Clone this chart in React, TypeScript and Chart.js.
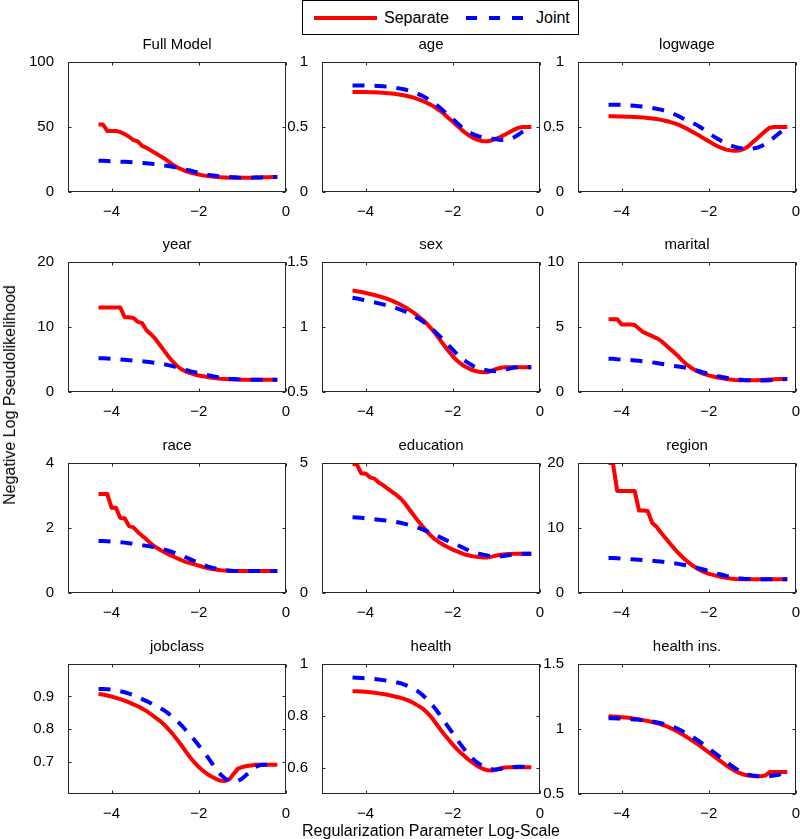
import React, { useEffect, useRef } from "react";
import { Chart, registerables } from "chart.js";

Chart.register(...registerables);

const FONT = "'Liberation Sans', Arial, Helvetica, sans-serif";

// regularization parameter (log10 scale)
const XS = [
  -4.3, -4.2, -4.1, -4.0, -3.9, -3.8, -3.7, -3.6, -3.5, -3.4,
  -3.3, -3.2, -3.1, -3.0, -2.9, -2.8, -2.7, -2.6, -2.5, -2.4,
  -2.3, -2.2, -2.1, -2.0, -1.9, -1.8, -1.7, -1.6, -1.5, -1.4,
  -1.3, -1.2, -1.1, -1.0, -0.9, -0.8, -0.7, -0.6, -0.5, -0.4,
  -0.3, -0.2,
];

const SEP_FULL = [52, 52, 47, 47, 47, 46, 44.5, 42.5, 40, 39, 35.5, 34, 32, 30, 28, 26, 23.5, 21, 19, 17.5, 16, 15, 14.2, 13.5, 12.8, 12.3, 11.9, 11.6, 11.4, 11.2, 11, 10.9, 10.9, 10.9, 11, 11, 11.1, 11.2, 11.3, 11.4, 11.5, 11.5];
const JOINT_FULL = [24, 24, 23.8, 23.6, 23.5, 23.3, 23.2, 23, 22.8, 22.6, 22.4, 22.1, 21.8, 21.5, 21, 20.5, 20, 19.4, 18.8, 18, 17.2, 16.5, 15.6, 14.8, 14, 13.3, 12.8, 12.4, 12, 11.7, 11.5, 11.3, 11.1, 11, 11, 11, 11.1, 11.2, 11.3, 11.4, 11.5, 11.6];

const SEP_AGE = [0.77, 0.77, 0.77, 0.769, 0.768, 0.767, 0.765, 0.763, 0.76, 0.757, 0.753, 0.748, 0.742, 0.735, 0.726, 0.715, 0.702, 0.687, 0.67, 0.65, 0.627, 0.6, 0.57, 0.54, 0.51, 0.48, 0.452, 0.428, 0.41, 0.398, 0.39, 0.39, 0.398, 0.41, 0.425, 0.442, 0.46, 0.478, 0.493, 0.5, 0.5, 0.5];
const JOINT_AGE = [0.82, 0.82, 0.82, 0.819, 0.818, 0.817, 0.815, 0.813, 0.81, 0.806, 0.801, 0.795, 0.788, 0.779, 0.768, 0.755, 0.74, 0.722, 0.7, 0.677, 0.65, 0.62, 0.59, 0.56, 0.53, 0.5, 0.475, 0.455, 0.44, 0.428, 0.42, 0.415, 0.41, 0.405, 0.4, 0.4, 0.405, 0.42, 0.44, 0.465, 0.485, 0.5];

const SEP_LOGWAGE = [0.582, 0.582, 0.581, 0.58, 0.579, 0.578, 0.577, 0.575, 0.573, 0.57, 0.566, 0.561, 0.555, 0.548, 0.54, 0.53, 0.518, 0.503, 0.486, 0.468, 0.449, 0.43, 0.41, 0.39, 0.37, 0.352, 0.337, 0.326, 0.32, 0.318, 0.32, 0.33, 0.35, 0.38, 0.41, 0.44, 0.47, 0.495, 0.5, 0.5, 0.5, 0.5];
const JOINT_LOGWAGE = [0.672, 0.672, 0.671, 0.67, 0.668, 0.666, 0.663, 0.66, 0.656, 0.652, 0.647, 0.641, 0.634, 0.625, 0.614, 0.6, 0.585, 0.567, 0.55, 0.537, 0.52, 0.5, 0.476, 0.452, 0.43, 0.41, 0.39, 0.373, 0.358, 0.347, 0.339, 0.334, 0.332, 0.333, 0.34, 0.352, 0.37, 0.395, 0.42, 0.448, 0.475, 0.5];

const SEP_YEAR = [13, 13, 13, 13, 13, 13, 11.5, 11.5, 11.4, 10.8, 10.6, 9.5, 8.9, 8.2, 7.3, 6.4, 5.5, 4.7, 4.0, 3.5, 3.15, 2.9, 2.7, 2.55, 2.42, 2.3, 2.2, 2.12, 2.05, 2.0, 1.96, 1.93, 1.91, 1.9, 1.9, 1.9, 1.9, 1.9, 1.9, 1.9, 1.9, 1.9];
const JOINT_YEAR = [5.2, 5.2, 5.15, 5.1, 5.05, 5.0, 4.95, 4.9, 4.85, 4.8, 4.72, 4.64, 4.56, 4.48, 4.38, 4.27, 4.14, 3.98, 3.8, 3.6, 3.4, 3.2, 3.05, 2.9, 2.75, 2.6, 2.45, 2.33, 2.22, 2.12, 2.05, 2.0, 1.95, 1.92, 1.9, 1.9, 1.9, 1.9, 1.9, 1.9, 1.9, 1.9];

const SEP_SEX = [1.28, 1.275, 1.27, 1.262, 1.254, 1.246, 1.237, 1.227, 1.216, 1.203, 1.188, 1.172, 1.154, 1.133, 1.11, 1.085, 1.058, 1.027, 0.99, 0.95, 0.905, 0.86, 0.815, 0.775, 0.74, 0.713, 0.692, 0.675, 0.663, 0.656, 0.652, 0.652, 0.665, 0.678, 0.686, 0.69, 0.69, 0.69, 0.69, 0.69, 0.69, 0.69];
const JOINT_SEX = [1.225, 1.22, 1.212, 1.205, 1.197, 1.19, 1.182, 1.174, 1.165, 1.155, 1.145, 1.133, 1.12, 1.105, 1.088, 1.068, 1.046, 1.02, 0.992, 0.962, 0.93, 0.895, 0.86, 0.825, 0.79, 0.76, 0.735, 0.713, 0.695, 0.682, 0.672, 0.666, 0.662, 0.66, 0.662, 0.67, 0.68, 0.688, 0.69, 0.69, 0.69, 0.69];

const SEP_MARITAL = [5.6, 5.6, 5.6, 5.2, 5.2, 5.2, 5.15, 4.87, 4.6, 4.45, 4.3, 4.15, 3.95, 3.65, 3.35, 3.05, 2.75, 2.4, 2.1, 1.85, 1.65, 1.5, 1.38, 1.28, 1.19, 1.11, 1.05, 1.0, 0.96, 0.93, 0.91, 0.9, 0.9, 0.9, 0.91, 0.93, 0.95, 0.97, 0.99, 1.0, 1.0, 1.0];
const JOINT_MARITAL = [2.55, 2.55, 2.52, 2.5, 2.48, 2.46, 2.43, 2.4, 2.36, 2.32, 2.28, 2.23, 2.18, 2.12, 2.06, 2.0, 1.96, 1.91, 1.85, 1.77, 1.68, 1.58, 1.48, 1.39, 1.3, 1.22, 1.15, 1.09, 1.04, 1.0, 0.96, 0.93, 0.91, 0.9, 0.89, 0.88, 0.89, 0.91, 0.94, 0.97, 0.99, 1.0];

const SEP_RACE = [3.05, 3.05, 3.05, 2.62, 2.62, 2.31, 2.3, 2.06, 2.02, 1.88, 1.76, 1.65, 1.52, 1.42, 1.34, 1.26, 1.19, 1.13, 1.07, 1.01, 0.96, 0.92, 0.88, 0.84, 0.8, 0.77, 0.74, 0.72, 0.7, 0.69, 0.68, 0.68, 0.68, 0.68, 0.68, 0.68, 0.68, 0.68, 0.68, 0.68, 0.68, 0.68];
const JOINT_RACE = [1.6, 1.6, 1.59, 1.58, 1.57, 1.56, 1.55, 1.53, 1.51, 1.49, 1.47, 1.45, 1.43, 1.4, 1.37, 1.34, 1.3, 1.26, 1.21, 1.16, 1.1, 1.04, 0.98, 0.92, 0.87, 0.82, 0.78, 0.75, 0.72, 0.7, 0.69, 0.68, 0.68, 0.68, 0.68, 0.68, 0.68, 0.68, 0.68, 0.68, 0.68, 0.68];

const SEP_EDUCATION = [4.95, 4.95, 4.6, 4.6, 4.45, 4.4, 4.25, 4.15, 4.02, 3.9, 3.78, 3.64, 3.45, 3.22, 3.0, 2.78, 2.58, 2.38, 2.2, 2.05, 1.94, 1.84, 1.75, 1.67, 1.6, 1.53, 1.47, 1.43, 1.4, 1.38, 1.37, 1.37, 1.4, 1.44, 1.47, 1.49, 1.5, 1.51, 1.51, 1.51, 1.51, 1.51];
const JOINT_EDUCATION = [2.91, 2.9, 2.89, 2.87, 2.85, 2.84, 2.82, 2.8, 2.78, 2.76, 2.73, 2.7, 2.66, 2.62, 2.57, 2.51, 2.45, 2.38, 2.31, 2.23, 2.15, 2.07, 1.99, 1.92, 1.85, 1.77, 1.69, 1.62, 1.56, 1.51, 1.47, 1.44, 1.42, 1.41, 1.41, 1.43, 1.46, 1.49, 1.51, 1.51, 1.51, 1.51];

const SEP_REGION = [20, 20, 15.7, 15.7, 15.7, 15.7, 15.7, 12.7, 12.7, 12.6, 10.8, 10.2, 9.3, 8.5, 7.7, 6.9, 6.15, 5.5, 4.9, 4.35, 3.9, 3.5, 3.2, 2.95, 2.78, 2.6, 2.45, 2.33, 2.23, 2.16, 2.12, 2.1, 2.1, 2.1, 2.1, 2.1, 2.1, 2.1, 2.1, 2.1, 2.1, 2.1];
const JOINT_REGION = [5.4, 5.4, 5.35, 5.3, 5.25, 5.2, 5.15, 5.1, 5.05, 5.0, 4.95, 4.9, 4.83, 4.75, 4.67, 4.58, 4.48, 4.36, 4.23, 4.08, 3.92, 3.75, 3.57, 3.38, 3.18, 2.98, 2.8, 2.63, 2.48, 2.36, 2.27, 2.2, 2.16, 2.14, 2.13, 2.13, 2.13, 2.13, 2.13, 2.13, 2.13, 2.13];

const SEP_JOBCLASS = [0.908, 0.906, 0.903, 0.9, 0.896, 0.892, 0.887, 0.882, 0.876, 0.87, 0.863, 0.855, 0.846, 0.836, 0.826, 0.814, 0.8, 0.785, 0.768, 0.75, 0.731, 0.713, 0.697, 0.683, 0.671, 0.661, 0.653, 0.646, 0.641, 0.64, 0.645, 0.662, 0.678, 0.683, 0.686, 0.688, 0.69, 0.69, 0.69, 0.69, 0.69, 0.69];
const JOINT_JOBCLASS = [0.923, 0.923, 0.922, 0.921, 0.919, 0.916, 0.913, 0.909, 0.904, 0.898, 0.892, 0.886, 0.879, 0.872, 0.865, 0.858, 0.848, 0.837, 0.825, 0.812, 0.797, 0.782, 0.766, 0.749, 0.732, 0.714, 0.695, 0.676, 0.66, 0.648, 0.641, 0.638, 0.64, 0.648, 0.66, 0.672, 0.683, 0.689, 0.69, 0.69, 0.69, 0.69];

const SEP_HEALTH = [0.895, 0.895, 0.894, 0.893, 0.891, 0.889, 0.887, 0.885, 0.882, 0.878, 0.874, 0.87, 0.865, 0.858, 0.85, 0.84, 0.83, 0.815, 0.797, 0.775, 0.752, 0.73, 0.71, 0.69, 0.672, 0.656, 0.641, 0.627, 0.615, 0.604, 0.596, 0.591, 0.59, 0.594, 0.599, 0.602, 0.603, 0.603, 0.603, 0.603, 0.603, 0.603];
const JOINT_HEALTH = [0.948, 0.947, 0.946, 0.945, 0.944, 0.942, 0.94, 0.938, 0.936, 0.933, 0.93, 0.926, 0.92, 0.913, 0.905, 0.895, 0.882, 0.866, 0.848, 0.828, 0.805, 0.781, 0.757, 0.733, 0.709, 0.686, 0.664, 0.645, 0.629, 0.616, 0.606, 0.599, 0.595, 0.594, 0.597, 0.6, 0.602, 0.604, 0.605, 0.605, 0.605, 0.605];

const SEP_HEALTHINS = [1.098, 1.096, 1.094, 1.091, 1.088, 1.084, 1.079, 1.074, 1.068, 1.061, 1.054, 1.046, 1.036, 1.025, 1.01, 0.995, 0.977, 0.957, 0.937, 0.915, 0.893, 0.87, 0.845, 0.82, 0.795, 0.77, 0.745, 0.72, 0.698, 0.678, 0.662, 0.65, 0.642, 0.638, 0.636, 0.637, 0.642, 0.67, 0.67, 0.67, 0.67, 0.67];
const JOINT_HEALTHINS = [1.083, 1.082, 1.081, 1.08, 1.078, 1.076, 1.074, 1.071, 1.067, 1.063, 1.058, 1.052, 1.045, 1.037, 1.027, 1.014, 0.999, 0.983, 0.965, 0.945, 0.923, 0.9, 0.876, 0.851, 0.825, 0.799, 0.773, 0.747, 0.722, 0.699, 0.678, 0.661, 0.649, 0.642, 0.638, 0.637, 0.637, 0.638, 0.642, 0.648, 0.658, 0.67];

const TITLES = ["Full Model", "age", "logwage", "year", "sex", "marital", "race", "education", "region", "jobclass", "health", "health ins."];
const SEPARATE = [SEP_FULL, SEP_AGE, SEP_LOGWAGE, SEP_YEAR, SEP_SEX, SEP_MARITAL, SEP_RACE, SEP_EDUCATION, SEP_REGION, SEP_JOBCLASS, SEP_HEALTH, SEP_HEALTHINS];
const JOINT = [JOINT_FULL, JOINT_AGE, JOINT_LOGWAGE, JOINT_YEAR, JOINT_SEX, JOINT_MARITAL, JOINT_RACE, JOINT_EDUCATION, JOINT_REGION, JOINT_JOBCLASS, JOINT_HEALTH, JOINT_HEALTHINS];
const Y_MIN = [0, 0, 0, 0, 0.5, 0, 0, 0, 0, 0.6, 0.5, 0.5];
const Y_MAX = [100, 1, 1, 20, 1.5, 10, 4, 5, 20, 1.0, 1.0, 1.5];
const Y_TICKS = [
  [0, 50, 100], [0, 0.5, 1], [0, 0.5, 1],
  [0, 10, 20], [0.5, 1, 1.5], [0, 5, 10],
  [0, 2, 4], [0, 5], [0, 10, 20],
  [0.7, 0.8, 0.9], [0.6, 0.8, 1], [0.5, 1, 1.5],
];
const X_MIN = -5;
const X_MAX = 0;
const X_TICKS = [-4, -2, 0];

// layout
const COL_LEFT = [68, 322, 578];
const ROW_TOP = [62, 262, 463, 664];
const BOX_W = 218;
const BOX_H = 130;
const PAD_L = 52;
const PAD_T = 30;
const PAD_R = 12;
const PAD_B = 26;

const fmtX = (v: number) => (v < 0 ? "\u2212" + Math.abs(v) : String(v));

const boxPlugin = {
  id: "boxTicks",
  afterDraw(chart: any) {
    const { ctx, chartArea: a, scales } = chart;
    const L = Math.round(a.left) + 0.5;
    const R = Math.round(a.right) - 0.5;
    const T = Math.round(a.top) + 0.5;
    const B = Math.round(a.bottom) - 0.5;
    ctx.save();
    ctx.strokeStyle = "#262626";
    ctx.lineWidth = 1;
    ctx.strokeRect(L, T, R - L, B - T);
    const tl = 3;
    ctx.beginPath();
    for (const t of scales.x.ticks) {
      const px = Math.round(scales.x.getPixelForValue(t.value)) + 0.5;
      ctx.moveTo(px, B);
      ctx.lineTo(px, B - tl);
      ctx.moveTo(px, T);
      ctx.lineTo(px, T + tl);
    }
    for (const t of scales.y.ticks) {
      const py = Math.round(scales.y.getPixelForValue(t.value)) + 0.5;
      ctx.moveTo(L, py);
      ctx.lineTo(L + tl, py);
      ctx.moveTo(R, py);
      ctx.lineTo(R - tl, py);
    }
    ctx.stroke();
    ctx.restore();
  },
};

export default function App() {
  const refs = useRef<(HTMLCanvasElement | null)[]>([]);

  useEffect(() => {
    const charts = TITLES.map((title, i) => {
      const canvas = refs.current[i] as HTMLCanvasElement;
      return new Chart(canvas, {
        type: "line",
        data: {
          datasets: [
            {
              label: "Separate",
              data: XS.map((x, k) => ({ x, y: SEPARATE[i][k] })),
              borderColor: "#ff0000",
              backgroundColor: "#ff0000",
              borderWidth: 4,
              pointRadius: 0,
              tension: 0,
              fill: false,
              order: 2,
              borderJoinStyle: "round",
              borderCapStyle: "butt",
            },
            {
              label: "Joint",
              data: XS.map((x, k) => ({ x, y: JOINT[i][k] })),
              borderColor: "#0000ff",
              backgroundColor: "#0000ff",
              borderWidth: 4,
              borderDash: [12, 10],
              pointRadius: 0,
              tension: 0,
              fill: false,
              order: 1,
              borderCapStyle: "butt",
            },
          ],
        },
        options: {
          responsive: false,
          animation: false,
          devicePixelRatio: 1,
          layout: { padding: { left: 0, top: 0, right: PAD_R, bottom: 0 } },
          plugins: {
            legend: { display: false },
            tooltip: { enabled: false },
            title: {
              display: true,
              text: title,
              color: "#000",
              fullSize: false,
              font: { family: FONT, size: 15, weight: "normal", lineHeight: 1.2 },
              padding: { top: 4, bottom: 8 },
            },
          },
          scales: {
            x: {
              type: "linear",
              min: X_MIN,
              max: X_MAX,
              grid: { display: false },
              border: { display: false },
              ticks: {
                color: "#000",
                font: { family: FONT, size: 15 },
                padding: 3,
                maxRotation: 0,
                autoSkip: false,
                callback: (v: any) => fmtX(Number(v)),
              },
              afterBuildTicks: (s: any) => {
                s.ticks = X_TICKS.map((v) => ({ value: v }));
              },
              afterFit: (s: any) => {
                s.height = PAD_B;
              },
            },
            y: {
              type: "linear",
              min: Y_MIN[i],
              max: Y_MAX[i],
              grid: { display: false },
              border: { display: false },
              ticks: {
                color: "#000",
                font: { family: FONT, size: 15 },
                padding: 6,
                autoSkip: false,
                callback: (v: any) => String(v),
              },
              afterBuildTicks: (s: any) => {
                s.ticks = Y_TICKS[i].map((v) => ({ value: v }));
              },
              afterFit: (s: any) => {
                s.width = PAD_L;
              },
            },
          },
        },
        plugins: [boxPlugin],
      } as any);
    });
    return () => charts.forEach((c) => c.destroy());
  }, []);

  const W = PAD_L + BOX_W + PAD_R;
  const H = PAD_T + BOX_H + PAD_B;

  return (
    <div
      style={{
        position: "absolute",
        left: 0,
        top: 0,
        width: 800,
        height: 839,
        overflow: "hidden",
        background: "#fff",
        fontFamily: FONT,
        color: "#000",
      }}
    >
      {TITLES.map((t, i) => {
        const col = i % 3;
        const row = Math.floor(i / 3);
        return (
          <canvas
            key={t}
            ref={(el) => {
              refs.current[i] = el;
            }}
            width={W}
            height={H}
            style={{
              position: "absolute",
              left: COL_LEFT[col] - PAD_L,
              top: ROW_TOP[row] - PAD_T,
              width: W,
              height: H,
            }}
          />
        );
      })}

      {/* legend */}
      <div
        style={{
          position: "absolute",
          left: 302,
          top: 0,
          width: 277,
          height: 35,
          boxSizing: "border-box",
          border: "1px solid #000",
          background: "#fff",
        }}
      />
      <div style={{ position: "absolute", left: 314, top: 16, width: 63, height: 4, background: "#ff0000" }} />
      <div style={{ position: "absolute", left: 384, top: 10, fontSize: 16, lineHeight: "16px", whiteSpace: "nowrap" }}>Separate</div>
      <div style={{ position: "absolute", left: 466, top: 16, width: 11, height: 4, background: "#0000ff" }} />
      <div style={{ position: "absolute", left: 489, top: 16, width: 11, height: 4, background: "#0000ff" }} />
      <div style={{ position: "absolute", left: 512, top: 16, width: 11, height: 4, background: "#0000ff" }} />
      <div style={{ position: "absolute", left: 536, top: 10, fontSize: 16, lineHeight: "16px", whiteSpace: "nowrap" }}>Joint</div>

      {/* axis labels */}
      <div
        style={{
          position: "absolute",
          left: 431,
          top: 823,
          transform: "translateX(-50%)",
          fontSize: 16,
          lineHeight: "16px",
          whiteSpace: "nowrap",
        }}
      >
        Regularization Parameter Log-Scale
      </div>
      <div
        style={{
          position: "absolute",
          left: 10,
          top: 395,
          transform: "translate(-50%, -50%) rotate(-90deg)",
          fontSize: 16,
          lineHeight: "16px",
          whiteSpace: "nowrap",
        }}
      >
        Negative Log Pseudolikelihood
      </div>
    </div>
  );
}
